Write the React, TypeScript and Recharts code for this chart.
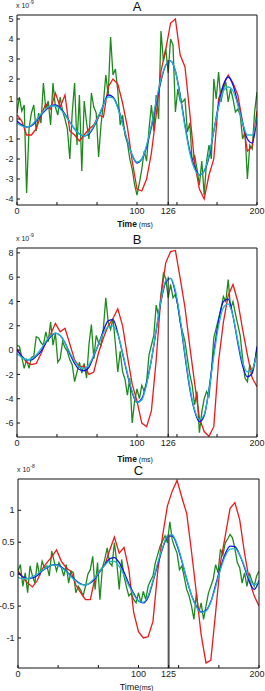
import React from 'react';
import { LineChart, Line, XAxis, YAxis, ReferenceLine } from 'recharts';

// time grids (ms): smooth fits every 4 ms, raw green trace every 2 ms
const T4 = Array.from({ length: 51 }, (_, i) => i * 4);
const T2 = Array.from({ length: 101 }, (_, i) => i * 2);

// ---- panel A (x 10^-9)
const blueA = [
  -0.1, -0.3, -0.4, -0.35, -0.1, 0.2, 0.45, 0.65, 0.7, 0.55,
  0.25, -0.15, -0.5, -0.75, -0.85, -0.75, -0.4, 0.1, 0.7, 1.2,
  1.1, 0.6, -0.2, -1.1, -1.8, -2.2, -2.0, -1.4, -0.4, 0.8,
  1.9, 2.7, 2.9, 2.4, 1.2, -0.3, -1.6, -2.4, -2.8, -2.6,
  -1.9, -0.6, 0.7, 1.7, 2.1, 1.7, 0.8, -0.2, -1.0, -1.2,
  0.1,
];
const cyanA = [
  -0.2, -0.35, -0.4, -0.3, -0.05, 0.25, 0.5, 0.65, 0.65, 0.5,
  0.2, -0.15, -0.5, -0.75, -0.85, -0.7, -0.35, 0.15, 0.7, 1.1,
  1.05, 0.55, -0.25, -1.1, -1.8, -2.15, -2.0, -1.3, -0.3, 0.9,
  2.0, 2.7, 2.9, 2.4, 1.1, -0.4, -1.7, -2.5, -2.8, -2.6,
  -1.8, -0.6, 0.6, 1.4, 1.6, 1.4, 0.7, -0.2, -0.8, -0.8,
  0.1,
];
const redA = [
  0.2, -0.1, -0.8, -0.8, -0.5, 0.2, 0.75, 0.5, 1.3, 0.6,
  1.2, -0.6, -0.8, -1.1, -0.8, -0.5, -0.3, 0.2, 0.1, 1.6,
  2.0, 1.75, 0.8, -0.4, -2.1, -3.5, -3.6, -3.0, -1.7, 0.2,
  2.4, 3.5, 4.8, 5.0, 3.2, 2.6, 0.3, -2.2, -3.5, -4.0,
  -2.8, -2.0, 1.0, 1.7, 2.2, 1.8, 1.2, -0.15, -1.6, -1.4,
  0.4,
];
const greenA = [
  0.3, 1.1, 0.4, 0.7, -3.7, -0.5, 0.3, 0.7, -0.6, 0.3,
  -0.2, 1.8, 0.5, 0.9, -0.3, 1.8, 0.6, 0.2, 1.1, 0.4,
  0.0, -0.5, -2.0, 0.3, 1.8, -1.3, 1.2, -2.6, 0.9, -0.2,
  -1.0, 1.3, 0.6, 0.3, -1.9, -0.3, 0.8, 2.2, 1.2, 4.1,
  2.2, 2.5, 1.4, -0.3, 0.2, -0.8, -1.2, -2.0, -2.5, -3.3,
  -3.8, -3.2, -2.5, -1.6, -2.1, -0.5, 0.7, -0.6, 1.2, 0.0,
  4.4, 2.9, 3.5, 2.3, 4.0, 3.7, 0.35, 1.5, 0.9, 0.85,
  1.0, -0.65, -0.2, -2.15, -1.8, -2.5, -3.3, -2.1, -3.8, -2.1,
  -1.3, -2.0, 2.0, 1.0, 2.35, 0.85, 1.5, 1.85, 0.85, 1.5,
  1.0, 0.35, 0.5, 0.2, -1.0, -0.65, -3.0, -1.3, -1.5, 0.35,
  1.35,
];

// ---- panel B (x 10^-9)
const blueB = [
  0.0, -0.5, -0.8, -0.8, -0.5, -0.1, 0.6, 1.1, 1.4, 1.2,
  0.6, -0.3, -1.1, -1.6, -1.7, -1.4, -0.5, 0.5, 1.6, 2.4,
  2.5, 1.4, -0.3, -2.0, -3.5, -4.3, -4.0, -2.7, -0.8, 1.6,
  4.0, 5.6, 5.9, 4.7, 2.4, -0.5, -3.2, -5.0, -5.9, -5.4,
  -3.2, -0.2, 2.4, 4.0, 4.2, 2.8, 0.6, -1.3, -2.2, -1.9,
  0.3,
];
const cyanB = [
  -0.3, -0.6, -0.8, -0.7, -0.4, 0.1, 0.7, 1.2, 1.4, 1.2,
  0.6, -0.2, -0.9, -1.4, -1.5, -1.2, -0.4, 0.5, 1.4, 1.9,
  2.0, 1.3, -0.2, -1.9, -3.4, -4.3, -4.1, -2.8, -0.8, 1.7,
  4.1, 5.7, 5.9, 4.9, 2.6, -0.3, -3.0, -4.9, -5.7, -5.3,
  -3.3, -0.5, 2.0, 3.5, 3.8, 2.8, 0.8, -1.0, -1.8, -1.6,
  -0.2,
];
const redB = [
  0.1, -0.5, -1.0, -1.2, -1.1, -0.3, 0.6, 1.3, 2.2, 1.5,
  1.8, 0.5, -0.8, -1.4, -1.3, -2.0, -1.8, -0.2, 1.0, 2.0,
  2.6, 3.4, 2.0, -0.5, -2.8, -4.2, -6.0, -6.3, -5.0, -0.8,
  4.5, 7.2, 8.1, 8.2, 5.9, 3.5, 0.3, -2.7, -5.6, -6.7,
  -7.1, -6.3, -0.9, 2.3, 4.5, 5.4, 4.0, 1.7, -0.4, -2.3,
  -3.0,
];
const greenB = [
  0.4, 0.3, -0.6, -1.5, -0.8, -1.5, -0.6, -0.5, 1.1, 1.0,
  0.6, 0.4, 1.5, 0.7, 2.3, 0.4, 1.4, -1.0, -0.7, 0.7,
  0.2, -0.1, -0.8, -1.2, -2.6, -1.8, -1.0, -1.9, -1.1, -2.3,
  0.5, 2.1, -0.7, 1.2, 0.6, 0.4, 1.8, 4.3, 2.3, 1.7,
  2.6, 0.5, -1.8, -0.1, -1.8, -2.4, -3.7, -2.3, -6.0, -4.2,
  -3.2, -4.0, -2.9, -3.4, -2.6, -0.4, 0.4, 1.2, 3.7, 2.8,
  4.5, 6.3, 5.9, 4.3, 5.4, 4.3, 4.6, 3.7, 2.3, 1.5,
  0.7, -0.7, -2.0, -2.9, -4.5, -3.4, -6.8, -5.1, -4.0, -3.4,
  -3.8, -1.8, 1.0, 1.8, 2.6, 3.4, 4.4, 4.0, 5.8, 3.4,
  4.0, 3.0, 2.1, 1.2, -0.7, -2.3, -2.6, -1.2, -1.8, -1.0,
  0.1,
];

// ---- panel C (x 10^-8)
const blueC = [
  0.02, -0.04, -0.07, -0.06, -0.02, 0.05, 0.1, 0.14, 0.15, 0.11,
  0.05, -0.03, -0.1, -0.15, -0.17, -0.14, -0.07, 0.04, 0.15, 0.24,
  0.26, 0.18, 0.03, -0.15, -0.3, -0.42, -0.45, -0.36, -0.12, 0.15,
  0.4, 0.58, 0.6, 0.45, 0.2, -0.08, -0.33, -0.5, -0.59, -0.57,
  -0.43, -0.17, 0.1, 0.32, 0.44, 0.43, 0.3, 0.1, -0.12, -0.24,
  -0.1,
];
const cyanC = [
  -0.05, -0.07, -0.07, -0.04, 0.0, 0.06, 0.11, 0.14, 0.14, 0.1,
  0.04, -0.04, -0.11, -0.16, -0.17, -0.13, -0.05, 0.05, 0.14, 0.2,
  0.2, 0.12, -0.02, -0.18, -0.32, -0.42, -0.44, -0.34, -0.1, 0.18,
  0.42, 0.6, 0.62, 0.47, 0.22, -0.07, -0.33, -0.51, -0.6, -0.58,
  -0.44, -0.2, 0.07, 0.28, 0.39, 0.4, 0.3, 0.12, -0.07, -0.17,
  -0.12,
];
const redC = [
  0.05, -0.05, -0.14, -0.2, -0.1, 0.08, 0.18, 0.27, 0.38, 0.2,
  0.1, 0.04, -0.17, -0.29, -0.4, -0.4, -0.05, 0.06, 0.14, 0.37,
  0.58, 0.33, 0.42, 0.07, -0.6, -0.9, -1.0, -0.98, -0.74, 0.05,
  0.6, 1.07, 1.3, 1.47, 1.2, 0.95, 0.35, -0.29, -0.95, -1.39,
  -1.35, -0.6, 0.18, 0.6, 1.03, 1.12, 0.85, 0.33, -0.1, -0.34,
  -0.5,
];
const greenC = [
  0.05, 0.15, -0.19, 0.02, -0.29, 0.13, -0.03, -0.14, 0.18, -0.03,
  0.2, 0.1, 0.13, -0.03, 0.36, 0.2, 0.05, 0.18, 0.1, -0.03,
  0.15, -0.14, 0.05, 0.02, -0.29, -0.19, -0.25, -0.34, -0.19, 0.0,
  0.07, 0.28, -0.24, 0.18, -0.4, 0.1, 0.23, 0.41, 0.18, 0.13,
  0.49, 0.18, -0.24, 0.23, -0.03, -0.2, -0.34, -0.3, -0.4, -0.45,
  -0.29, -0.45, -0.27, -0.4, -0.19, -0.1, -0.03, 0.18, 0.31, 0.44,
  0.52, 0.6, 0.49, 0.82, 0.54, 0.42, 0.33, 0.07, 0.13, -0.05,
  -0.24, -0.34, -0.5, -0.71, -0.3, -0.61, -0.45, -0.71, -0.5, -0.3,
  -0.19, -0.08, 0.15, 0.02, 0.39, 0.3, 0.49, 0.55, 0.62, 0.57,
  0.4, 0.18, 0.1, -0.14, 0.02, -0.19, 0.02, -0.1, -0.19, -0.03,
  0.05,
];

const yTicksA = [-4, -3, -2, -1, 0, 1, 2, 3, 4, 5];
const yTicksB = [-6, -4, -2, 0, 2, 4, 6, 8];
const yTicksC = [-1, -0.5, 0, 0.5, 1];
const minorTimeTicks = [0, 33.3, 66.7, 100, 133.3, 166.7, 200];

const FONT = '"Liberation Sans", Arial, Helvetica, sans-serif';
const W = 265;

const toPts = (ts: number[], vs: number[]) => ts.map((t, i) => ({ t, v: vs[i] }));

interface PanelProps {
  title: string;
  exp: string;
  top: number;
  height: number;
  xAxisH: number;
  yW: number;
  rW: number;
  domain: [number, number];
  yTicks: number[];
  mark: number;
  markTop: number;
  markColor: string;
  markWidth: number;
  blue: number[];
  cyan: number[];
  red: number[];
  green: number[];
  boldTime: boolean;
  timeGap: number;
}

function Panel(p: PanelProps) {
  const plotTop = 15;
  const plotBottom = p.height - p.xAxisH;
  const plotW = W - p.yW - p.rW;
  const labeled = [0, 100, p.mark, 200];
  const ticks = [...minorTimeTicks, p.mark].sort((a, b) => a - b);
  const tickStyle = { fontSize: 9, fill: '#222', fontFamily: FONT };

  // only some time ticks carry labels; keep the last one inside the page
  const timeTick = (props: any) => {
    const { x, y, payload } = props;
    const v = payload.value;
    if (!labeled.includes(v)) return <g />;
    return (
      <text x={Math.min(x, W - 8)} y={y} dy="0.71em" textAnchor="middle" {...tickStyle}>
        {v}
      </text>
    );
  };

  return (
    <div style={{ position: 'absolute', left: 0, top: p.top, width: W, height: p.height }}>
      <LineChart width={W} height={p.height} margin={{ top: 0, right: 0, bottom: 0, left: 0 }}>
        <XAxis
          xAxisId="b"
          dataKey="t"
          type="number"
          domain={[0, 200]}
          ticks={ticks}
          interval={0}
          tickSize={-3}
          tickMargin={6}
          height={p.xAxisH}
          stroke="#111"
          tick={timeTick}
          allowDataOverflow
        />
        <XAxis
          xAxisId="top"
          orientation="top"
          dataKey="t"
          type="number"
          domain={[0, 200]}
          ticks={minorTimeTicks}
          interval={0}
          tick={false}
          tickSize={-3}
          height={plotTop}
          stroke="#111"
        />
        <YAxis
          yAxisId="l"
          domain={p.domain}
          ticks={p.yTicks}
          interval={0}
          allowDataOverflow
          width={p.yW}
          tickSize={-3}
          tickMargin={6.5}
          stroke="#111"
          tick={tickStyle}
        />
        <YAxis
          yAxisId="r"
          orientation="right"
          domain={p.domain}
          ticks={p.yTicks}
          interval={0}
          allowDataOverflow
          width={p.rW}
          tick={false}
          tickSize={-3}
          stroke="#111"
        />
        <Line xAxisId="b" yAxisId="l" data={toPts(T2, p.green)} dataKey="v" stroke="#1d8a1d" strokeWidth={1.3} dot={false} isAnimationActive={false} />
        <Line xAxisId="b" yAxisId="l" data={toPts(T4, p.red)} dataKey="v" stroke="#f01818" strokeWidth={1.3} dot={false} isAnimationActive={false} />
        <Line xAxisId="b" yAxisId="l" data={toPts(T4, p.blue)} dataKey="v" type="monotone" stroke="#1010ee" strokeWidth={1.3} dot={false} isAnimationActive={false} />
        <Line xAxisId="b" yAxisId="l" data={toPts(T4, p.cyan)} dataKey="v" type="monotone" stroke="#20b8c8" strokeWidth={1.3} dot={false} isAnimationActive={false} />
        <ReferenceLine
          xAxisId="b"
          yAxisId="l"
          segment={[{ x: p.mark, y: p.domain[0] }, { x: p.mark, y: p.markTop }]}
          stroke={p.markColor}
          strokeWidth={p.markWidth}
        />
      </LineChart>

      <div style={{ position: 'absolute', left: p.yW - 1, top: 1, fontFamily: FONT, fontSize: 7, color: '#222', lineHeight: '10px', whiteSpace: 'nowrap' }}>
        x 10<span style={{ fontSize: 5, position: 'relative', top: -4 }}>{p.exp}</span>
      </div>
      <div style={{ position: 'absolute', left: p.yW, width: plotW, top: -1, textAlign: 'center', fontFamily: FONT, fontSize: 13, lineHeight: '15px', color: '#111' }}>
        {p.title}
      </div>
      <div style={{ position: 'absolute', left: p.yW, width: plotW - 4, top: plotBottom + p.timeGap - 6, textAlign: 'center', fontFamily: FONT, lineHeight: '12px', color: '#111', whiteSpace: 'nowrap' }}>
        <span style={{ fontSize: p.boldTime ? 8.5 : 9, fontWeight: p.boldTime ? 'bold' : 'normal' }}>Time</span>
        <span style={{ fontSize: 7 }}>{p.boldTime ? ' (ms)' : '(ms)'}</span>
      </div>
    </div>
  );
}

export default function App() {
  return (
    <div style={{ position: 'absolute', left: 0, top: 0, width: W, height: 691, background: '#fff', overflow: 'hidden' }}>
      <Panel
        title="A" exp="-9" top={0} height={230} xAxisH={25} yW={17} rW={8}
        domain={[-4.3, 5.2]} yTicks={yTicksA} mark={126} markTop={2.95} markColor="#222" markWidth={1}
        blue={blueA} cyan={cyanA} red={redA} green={greenA} boldTime timeGap={17}
      />
      <Panel
        title="B" exp="-9" top={233} height={229} xAxisH={25} yW={17} rW={8}
        domain={[-7.15, 8.4]} yTicks={yTicksB} mark={126} markTop={6.05} markColor="#222" markWidth={1}
        blue={blueB} cyan={cyanB} red={redB} green={greenB} boldTime timeGap={20}
      />
      <Panel
        title="C" exp="-8" top={464} height={227} xAxisH={23} yW={18} rW={6}
        domain={[-1.47, 1.49]} yTicks={yTicksC} mark={125} markTop={0.62} markColor="#555" markWidth={2}
        blue={blueC} cyan={cyanC} red={redC} green={greenC} boldTime={false} timeGap={17}
      />
    </div>
  );
}
